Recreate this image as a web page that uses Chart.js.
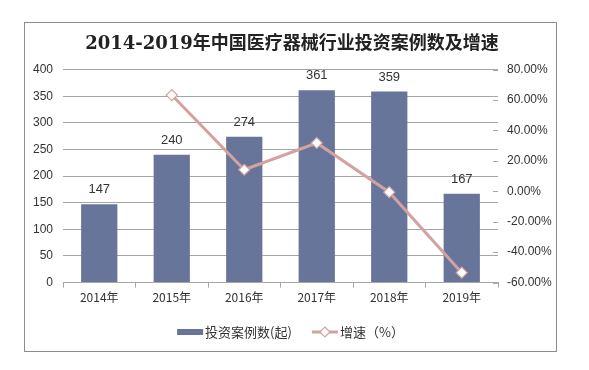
<!DOCTYPE html>
<html>
<head>
<meta charset="utf-8">
<script src="https://cdn.jsdelivr.net/npm/chart.js@4"></script>
<style>
  html, body { margin: 0; padding: 0; background: #fff; }
  #wrap { width: 589px; height: 370px; position: relative; }
</style>
</head>
<body>
<div id="wrap"><canvas id="chart"></canvas></div>
<script>
const years = ['2014年', '2015年', '2016年', '2017年', '2018年', '2019年'];
const cases = [147, 240, 274, 361, 359, 167];
const growth = [null, 63.27, 14.17, 31.75, -0.55, -53.48];

const barColor = '#68759b';
const lineColor = '#d4a29e';
const textColor = '#333';
const gridColor = '#a6a6a6';

// value labels above the bars + frame + legend
const extras = {
  id: 'extras',
  beforeDatasetsDraw(chart){
    // short inward tick marks on the right axis
    const ctx = chart.ctx;
    const s = chart.scales.y1;
    ctx.save();
    ctx.strokeStyle = gridColor;
    ctx.lineWidth = 1;
    s.ticks.forEach(t => {
      const py = Math.round(s.getPixelForValue(t.value)) + 0.5;
      ctx.beginPath();
      ctx.moveTo(s.left - 5, py);
      ctx.lineTo(s.left, py);
      ctx.stroke();
    });
    ctx.restore();
  },
  afterDatasetsDraw(chart){
    const ctx = chart.ctx;
    const meta = chart.getDatasetMeta(1);
    ctx.save();
    ctx.fillStyle = textColor;
    ctx.font = '13px "Liberation Sans", Arial, sans-serif';
    ctx.textAlign = 'center';
    ctx.textBaseline = 'bottom';
    meta.data.forEach((bar, i) => {
      ctx.fillText(String(cases[i]), bar.x, bar.y - 8);
    });
    ctx.restore();
  },
  afterDraw(chart){
    const ctx = chart.ctx;
    ctx.save();
    // outer frame
    ctx.strokeStyle = '#8c8c8c';
    ctx.lineWidth = 1;
    ctx.strokeRect(24.5, 22.5, 532, 329);

    // legend
    const y = 332;
    ctx.font = '13px "Noto Sans CJK SC", sans-serif';
    ctx.textBaseline = 'middle';
    const t1 = '投资案例数(起)';
    const t2 = '增速（%）';
    const w1 = ctx.measureText(t1).width;
    const w2 = ctx.measureText(t2).width;
    const sw = 26, gap = 2, between = 20;
    const total = sw + gap + w1 + between + sw + gap + w2;
    let x = chart.width / 2 - total / 2 - 4;
    ctx.fillStyle = barColor;
    ctx.fillRect(x, y - 3, sw, 6);
    x += sw + gap;
    ctx.fillStyle = textColor;
    ctx.fillText(t1, x, y);
    x += w1 + between;
    ctx.strokeStyle = lineColor;
    ctx.lineWidth = 3;
    ctx.beginPath();
    ctx.moveTo(x, y);
    ctx.lineTo(x + sw, y);
    ctx.stroke();
    const cx = x + sw / 2, r = 5;
    ctx.beginPath();
    ctx.moveTo(cx, y - r); ctx.lineTo(cx + r, y); ctx.lineTo(cx, y + r); ctx.lineTo(cx - r, y); ctx.closePath();
    ctx.fillStyle = '#fff';
    ctx.fill();
    ctx.lineWidth = 1.2;
    ctx.stroke();
    x += sw + gap;
    ctx.fillStyle = textColor;
    ctx.fillText(t2, x, y);
    ctx.restore();
  }
};

new Chart(document.getElementById('chart'), {
  data: {
    labels: years,
    datasets: [
      {
        type: 'line',
        label: '增速（%）',
        data: growth,
        yAxisID: 'y1',
        borderColor: lineColor,
        borderWidth: 3,
        pointStyle: 'rectRot',
        pointRadius: 5.5,
        pointBackgroundColor: '#fff',
        pointBorderColor: lineColor,
        pointBorderWidth: 1.2,
        tension: 0,
        order: 0
      },
      {
        type: 'bar',
        label: '投资案例数(起)',
        data: cases,
        yAxisID: 'y',
        backgroundColor: barColor,
        barPercentage: 0.5,
        categoryPercentage: 1,
        order: 1
      }
    ]
  },
  options: {
    responsive: true,
    maintainAspectRatio: false,
    animation: false,
    layout: { padding: { left: 25, right: 30, top: 0, bottom: 62 } },
    plugins: {
      legend: { display: false },
      tooltip: { enabled: false },
      title: {
        display: true,
        text: '2014-2019年中国医疗器械行业投资案例数及增速',
        color: '#222',
        font: { family: '"DejaVu Serif", "Noto Sans CJK SC", serif', size: 18, weight: 'bold' },
        padding: { top: 34, bottom: 14 }
      }
    },
    scales: {
      x: {
        offset: true,
        grid: { offset: true, drawOnChartArea: false, drawTicks: true, tickLength: 5, color: gridColor },
        border: { color: gridColor },
        ticks: { color: textColor, font: { family: '"Noto Sans CJK SC", sans-serif', size: 12 }, padding: 3 }
      },
      y: {
        position: 'left',
        min: 0, max: 400,
        ticks: { stepSize: 50, color: textColor, font: { family: '"Liberation Sans", Arial, sans-serif', size: 12 }, padding: 10 },
        grid: { color: gridColor, drawTicks: false },
        border: { display: false },
        afterFit(s){ s.width = 38; }
      },
      y1: {
        position: 'right',
        min: -60, max: 80,
        ticks: {
          stepSize: 20, color: textColor,
          font: { family: '"Liberation Sans", Arial, sans-serif', size: 12 },
          padding: 9,
          callback: v => v.toFixed(2) + '%'
        },
        grid: { drawOnChartArea: false, drawTicks: false },
        border: { display: false },
        afterFit(s){ s.width = 61; }
      }
    }
  },
  plugins: [extras]
});
</script>
</body>
</html>
